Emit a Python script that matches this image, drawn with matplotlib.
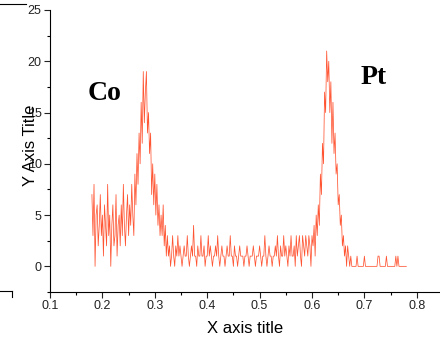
import numpy as np
import matplotlib.pyplot as plt
from matplotlib.lines import Line2D
from matplotlib.ticker import MultipleLocator

# counts, x from 0.180 to 0.780 in steps of 0.002
seg_start = [7, 3, 8, 0, 5, 6, 2, 4, 7, 3, 5, 1, 6, 4, 2, 8, 3, 5, 0, 4,
             6, 2, 3, 7, 1, 4, 5, 2, 6, 3, 8, 4, 2, 5, 7, 3, 6, 4, 8, 5, 3]
seg_co = [9, 6, 11, 8, 13, 10, 16, 12, 19, 14, 17, 19, 13, 15, 11, 13, 7, 10,
          6, 9, 5, 8, 4, 6, 3, 5, 3, 6, 2, 4, 1, 3, 1, 2, 0]
seg_mid = [1, 3, 1, 0, 2, 1, 3, 1, 2, 1,
           0, 1, 2, 1, 1, 3, 1, 0, 1, 2,
           1, 4, 1, 1, 0, 2, 1, 1, 3, 1,
           1, 2, 0, 1, 1, 3, 1, 2, 1, 0,
           1, 1, 2, 1, 3, 1, 0, 1, 2, 1,
           1, 0, 1, 2, 1, 1, 3, 1, 1, 0,
           2, 1, 1, 0, 1, 2, 1, 1, 1, 0,
           1, 1, 2, 1, 0, 1, 1, 1, 2, 1,
           0, 1, 1, 1, 2, 1, 0, 1, 1, 3,
           1, 0, 1, 2, 1, 1, 0, 1, 1, 2,
           1, 3, 1, 0, 2, 1, 1, 3, 1, 2,
           1, 0, 2, 1, 3, 1, 1, 2, 0, 3,
           1, 2, 3, 1, 0, 3, 2, 1, 3, 2,
           1, 3, 2, 0, 3]
seg_pt = [2, 4, 1, 5, 3, 6, 4, 9, 7, 12, 10, 17, 15, 21, 18, 20, 15, 18, 12,
          16, 11, 13, 9, 10, 6, 7, 4, 5, 2, 3, 1, 2, 0, 2, 1, 0, 1, 0]
seg_end = [0, 0, 0, 0, 1, 0, 0, 0, 0, 0,
           0, 1, 0, 0, 0, 0, 0, 0, 0, 0,
           0, 0, 0, 0, 1, 1, 0, 0, 0, 0,
           0, 0, 1, 0, 0, 0, 0, 0, 0, 0,
           0, 1, 0, 1, 0, 0, 0, 0, 0, 0,
           0, 0]

counts = np.array(seg_start + seg_co + seg_mid + seg_pt + seg_end)
x = 0.180 + 0.002 * np.arange(len(counts))

plt.rcParams['font.family'] = ['Liberation Sans', 'DejaVu Sans']
fig = plt.figure(figsize=(4.4, 3.39), dpi=100)
ax = fig.add_axes([50 / 440, 1 - 292 / 339, 390 / 440, 282 / 339])

ax.plot(x, counts, '-', color='#ff5533', lw=0.55)

ax.set_xlim(0.1, 0.1 + 390 / 524)
ax.set_ylim(-2.5, 25)
ax.xaxis.set_minor_locator(MultipleLocator(0.05))
ax.yaxis.set_major_locator(MultipleLocator(5))
ax.yaxis.set_minor_locator(MultipleLocator(2.5))
ax.set_xticks(np.arange(0.1, 0.81, 0.1))
ax.set_xticklabels(['0.1', '0.2', '0.3', '0.4', '0.5', '0.6', '0.7', '0.8'])
ax.tick_params(which='major', direction='out', length=4, width=0.8, labelsize=9, pad=2, colors='#222222')
ax.tick_params(which='minor', direction='out', length=2.5, width=0.8)
ax.spines['top'].set_visible(False)
ax.spines['right'].set_visible(False)

ax.set_xlabel('X axis title', fontsize=12, labelpad=6)
ax.set_ylabel('Y Axis Title', fontsize=12)
ax.yaxis.set_label_coords(-0.03, 0.52)

ax.text(0.171, 16.2, 'Co', fontsize=20, fontweight='bold', family='Liberation Serif')
ax.text(0.692, 17.8, 'Pt', fontsize=20, fontweight='bold', family='Liberation Serif')

# stray frame fragments at the left edge
fig.add_artist(Line2D([0, 26 / 440], [1 - 4 / 339, 1 - 4 / 339], color='black', lw=0.8))
fig.add_artist(Line2D([0, 12 / 440], [1 - 291 / 339, 1 - 291 / 339], color='black', lw=0.8))
fig.add_artist(Line2D([12 / 440, 12 / 440], [1 - 291 / 339, 1 - 297 / 339], color='black', lw=0.8))

fig.savefig('out.png', dpi=100)
